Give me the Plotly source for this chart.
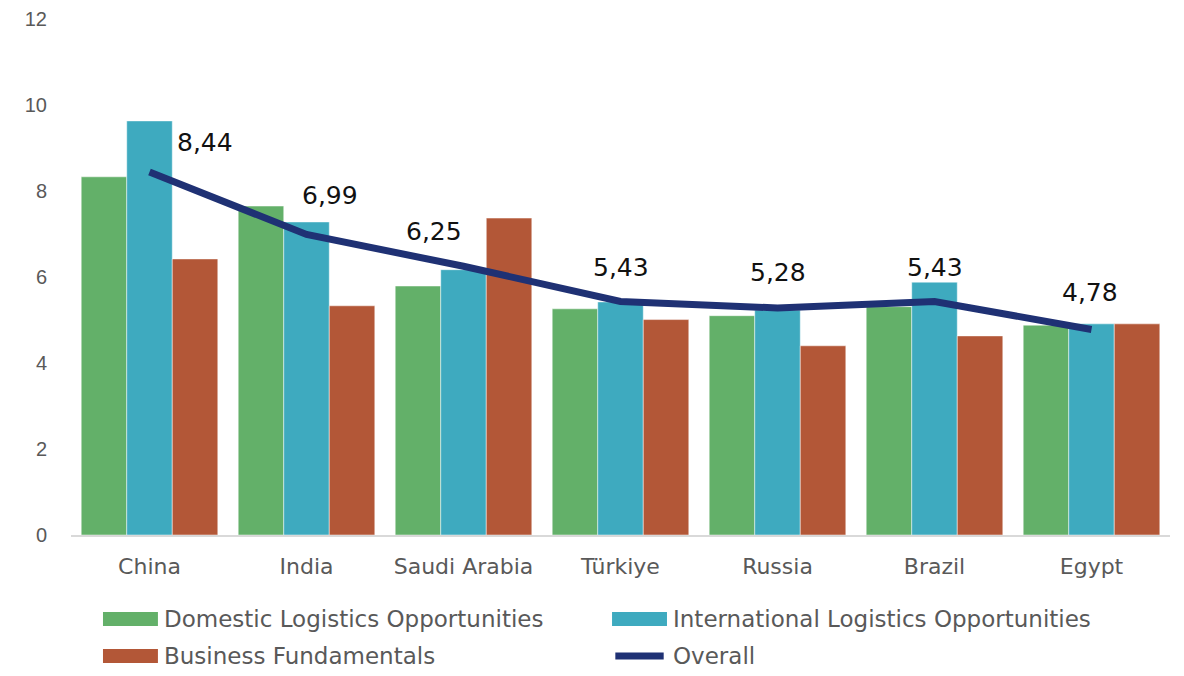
import plotly.graph_objects as go

countries = ["China", "India", "Saudi Arabia", "Türkiye", "Russia", "Brazil", "Egypt"]
domestic = [8.33, 7.65, 5.79, 5.26, 5.10, 5.31, 4.88]
international = [9.63, 7.28, 6.17, 5.42, 5.23, 5.88, 4.91]
business = [6.42, 5.33, 7.37, 5.01, 4.40, 4.63, 4.91]
overall = [8.44, 6.99, 6.25, 5.43, 5.28, 5.43, 4.78]
overall_labels = ["8,44", "6,99", "6,25", "5,43", "5,28", "5,43", "4,78"]
series_names = ["Domestic Logistics Opportunities", "International Logistics Opportunities",
                "Business Fundamentals", "Overall"]
y_ticks = [0, 2, 4, 6, 8, 10, 12]

# label placement (pixel offsets, styling only)
label_dx = [55, 23, -30, 0, 0, 0, -2]
label_dy = [30, 39, 35, 34, 35, 34, 37]

colors = ["#63b069", "#3eaabf", "#b35737", "#1f3174"]
TEXT = "DejaVu Sans"

fig = go.Figure()
for name, vals, col in zip(series_names[:3], [domestic, international, business], colors[:3]):
    fig.add_trace(go.Bar(x=countries, y=vals, name=name, marker_color=col,
                         marker_line=dict(color="rgba(255,255,255,0.6)", width=0.8),
                         showlegend=False))
fig.add_trace(go.Scatter(x=countries, y=overall, name=series_names[3], mode="lines",
                         line=dict(color=colors[3], width=7), showlegend=False))

for c, v, t, dx, dy in zip(countries, overall, overall_labels, label_dx, label_dy):
    fig.add_annotation(x=c, y=v, text=t, showarrow=False, xshift=dx, yshift=dy,
                       font=dict(family=TEXT, size=25, color="#111111"))

# custom legend (paper coordinates)
leg_items = [
    (series_names[0], colors[0], 0.0291, -0.1628, "rect"),
    (series_names[1], colors[1], 0.4923, -0.1628, "rect"),
    (series_names[2], colors[2], 0.0291, -0.2345, "rect"),
    (series_names[3], colors[3], 0.4923, -0.2345, "line"),
]
sw = 0.0500
for name, col, x0, yc, kind in leg_items:
    if kind == "rect":
        fig.add_shape(type="rect", xref="paper", yref="paper", x0=x0, x1=x0 + sw,
                      y0=yc - 0.0135, y1=yc + 0.0135, fillcolor=col, line_width=0)
    else:
        fig.add_shape(type="line", xref="paper", yref="paper", x0=x0 + 0.003, x1=x0 + sw - 0.003,
                      y0=yc, y1=yc, line=dict(color=col, width=7))
    fig.add_annotation(x=x0 + sw + 0.004, y=yc, xref="paper", yref="paper", text=name,
                       showarrow=False, xanchor="left", yanchor="middle",
                       font=dict(family=TEXT, size=23, color="#595959"))

# page body has an 8px margin: size/margins compensate so the plot lands where the reference has it
fig.update_layout(
    width=1168, height=660,
    margin=dict(l=63, r=6, t=11, b=133),
    plot_bgcolor="white", paper_bgcolor="white",
    barmode="group", bargap=0.13, bargroupgap=0,
    showlegend=False,
)
fig.update_xaxes(showline=True, linecolor="#d9d9d9", linewidth=2, ticks="", automargin=False,
                 tickfont=dict(family=TEXT, size=22, color="#595959"), ticklabelstandoff=11)
fig.update_yaxes(range=[0, 12], tickvals=y_ticks, showgrid=False, zeroline=False, automargin=False,
                 tickfont=dict(family="Liberation Sans", size=20, color="#595959"),
                 ticklabelstandoff=23)

fig.write_html("out.html")
